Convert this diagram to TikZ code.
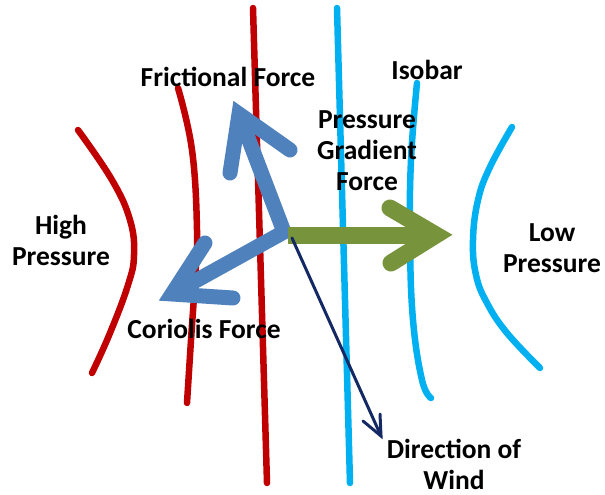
\documentclass[tikz,border=0pt]{standalone}
\usepackage{fontspec}
\setmainfont{Carlito}
\definecolor{isored}{HTML}{C00000}
\definecolor{isocyan}{HTML}{00B0F0}
\definecolor{forceblue}{HTML}{4F81BD}
\definecolor{forcegreen}{HTML}{77933C}
\definecolor{windnavy}{RGB}{20,40,100}
\begin{document}
\begin{tikzpicture}[x=1pt,y=-1pt,
  redline/.style={draw=isored, line width=6.5pt, line cap=round},
  cyanline/.style={draw=isocyan, line width=6.5pt, line cap=round},
  blueshaft/.style={draw=forceblue, line width=15pt, line cap=butt, line join=miter},
  bluehead/.style={draw=forceblue, line width=15pt, line cap=round, line join=miter},
  greenshaft/.style={draw=forcegreen, line width=17pt, line cap=butt},
  greenhead/.style={draw=forcegreen, line width=17pt, line cap=round, line join=miter},
  windline/.style={draw=windnavy, line width=3pt, line cap=round, line join=miter},
  lbl/.style={font=\fontsize{27.5}{31}\selectfont\bfseries, align=center, inner sep=0pt, anchor=base}]
\useasboundingbox (0,0) rectangle (605,495);

% isobars (high pressure side)
\draw[redline] plot[smooth, tension=0.7] coordinates {(78,130) (112,180) (130,220) (134,255) (128,285) (110,333) (92,373)};
\draw[redline] plot[smooth, tension=0.7] coordinates {(178,88) (192,150) (197,230) (195,280) (191,340) (187,403)};
\draw[redline] (253,8) -- (267,483);
% isobars (low pressure side)
\draw[cyanline] (337,8) -- (350,483);
\draw[cyanline] plot[smooth, tension=0.7] coordinates {(417,83) (411,160) (410,240) (413,320) (422,380) (431,398)};
\draw[cyanline] plot[smooth, tension=0.7] coordinates {(512,127) (490,167) (478,200) (473,240) (476,275) (487,303) (507,333) (540,368)};

% force arrows
\coordinate (O) at (284,232);
\coordinate (fv) at (239,114);
\coordinate (fb1) at (230,173);
\coordinate (fb2) at (290,150);
\coordinate (cv) at (172,294);
\coordinate (cb1) at (205,243);
\coordinate (cb2) at (233,298);
\draw[blueshaft] (fv) -- (O) -- (cv);
\draw[bluehead] (fb1) -- (fv) -- (fb2);
\draw[bluehead] (cb1) -- (cv) -- (cb2);

\coordinate (gs) at (288,235);
\coordinate (gv) at (436,235);
\coordinate (gb1) at (390,208);
\coordinate (gb2) at (391,263);
\draw[greenshaft] (gs) -- (gv);
\draw[greenhead] (gb1) -- (gv) -- (gb2);

\coordinate (ws) at (292,238);
\coordinate (wv) at (381,436);
\coordinate (wb1) at (363,421);
\coordinate (wb2) at (380,414);
\draw[windline] (ws) -- (wv);
\draw[windline] (wb1) -- (wv) -- (wb2);

% labels (base anchor = baseline of the last line)
\node[lbl] (fric) at (228,86) {Frictional Force};
\node[lbl] (isobar) at (427,80) {Isobar};
\node[lbl] (pgf) at (367,190) {Pressure\\Gradient\\Force};
\node[lbl] (high) at (61,265) {High\\Pressure};
\node[lbl] (low) at (552,272) {Low\\Pressure};
\node[lbl] (cor) at (204,338) {Coriolis Force};
\node[lbl] (wind) at (454,489) {Direction of\\Wind};
\end{tikzpicture}
\end{document}
